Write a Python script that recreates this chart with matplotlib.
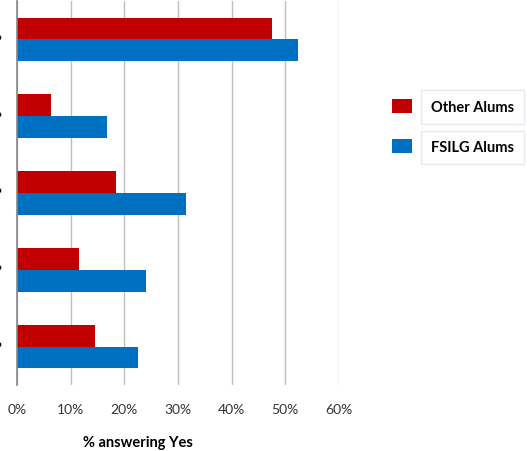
# bar chart: share of alums answering "Yes", FSILG vs other alums
import matplotlib.pyplot as plt
import numpy as np

# ─────────────────────────────────────────────────────────────
# DATA  (top category first)
# ─────────────────────────────────────────────────────────────
categories   = ["?", "?", "?", "?", "?"]      # question labels are clipped in the source
other_alums  = [47.6, 6.4, 18.4, 11.5, 14.6]
fsilg_alums  = [52.3, 16.8, 31.5, 24.0, 22.6]
xticks       = [0, 10, 20, 30, 40, 50, 60]
xtick_labels = ["0%", "10%", "20%", "30%", "40%", "50%", "60%"]

RED  = "#c00000"
BLUE = "#0070c0"

plt.rcParams['font.family'] = ['Lato', 'DejaVu Sans']

fig = plt.figure(figsize=(5.27, 4.52), dpi=100)
ax = fig.add_axes([17 / 527, 1 - 386 / 452, 322 / 527, 384 / 452])

# ─────────────────────────────────────────────────────────────
# BARS — category 0 at the top
# ─────────────────────────────────────────────────────────────
y = np.arange(len(categories))
h = 0.285
b_other = ax.barh(y - h / 2, other_alums, height=h, color=RED, label="Other Alums", zorder=3)
b_fsilg = ax.barh(y + h / 2, fsilg_alums, height=h, color=BLUE, label="FSILG Alums", zorder=3)

ax.set_ylim(len(categories) - 0.5, -0.5)
ax.set_xlim(0, 60)

# axes styling
ax.set_xticks(xticks)
ax.set_xticklabels(xtick_labels, fontsize=10, color="#333333")
ax.tick_params(axis="x", length=0, pad=13)
ax.set_yticks(y)
# labels sit mostly past the left edge, as in the source image
ax.set_yticklabels(categories, fontsize=11, fontweight="bold")
ax.tick_params(axis="y", length=0, pad=11.5)

ax.grid(axis="x", color="#bfbfbf", linewidth=1, zorder=0)
for s in ["top", "right", "bottom"]:
    ax.spines[s].set_visible(False)
ax.spines["left"].set_color("#868686")
ax.spines["left"].set_linewidth(1.2)
ax.spines["left"].set_zorder(4)

# x label sits under the whole chart area, not the plot centre
fig.text(138 / 527, 1 - 443 / 452, "% answering Yes", ha="center", va="center",
         fontsize=10.5, fontweight="bold")

# ─────────────────────────────────────────────────────────────
# LEGEND
# ─────────────────────────────────────────────────────────────
leg = fig.legend(handles=[b_other, b_fsilg], loc="upper left",
                 bbox_to_anchor=(386 / 527, 1 - 94 / 452),
                 frameon=False, fontsize=10.5, handlelength=1.4, handleheight=1.1,
                 handletextpad=1.3, labelspacing=1.75, borderaxespad=0)
for t in leg.get_texts():
    t.set_fontweight("bold")
    t.set_bbox(dict(facecolor="white", edgecolor="#e6e9f0", linewidth=1, pad=7))

fig.savefig("out.png", dpi=100)
